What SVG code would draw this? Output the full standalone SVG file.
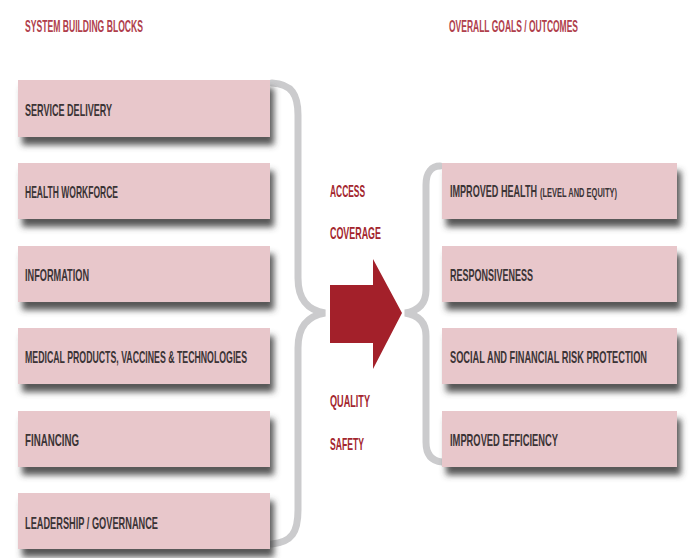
<svg xmlns="http://www.w3.org/2000/svg" width="692" height="558" viewBox="0 0 692 558">
<defs>
<filter id="sh" x="-10%" y="-30%" width="125%" height="180%">
<feGaussianBlur in="SourceAlpha" stdDeviation="3"/>
<feOffset dx="4" dy="8" result="b"/>
<feFlood flood-color="#454545" flood-opacity="0.9"/>
<feComposite in2="b" operator="in" result="s"/>
<feMerge><feMergeNode in="s"/><feMergeNode in="SourceGraphic"/></feMerge>
</filter>
<style>
.box{fill:#e8c7cb;filter:url(#sh)}
.t{font-family:"Liberation Sans",Arial,sans-serif;font-weight:bold;font-size:17px;fill:#3b3436}
.s{font-family:"Liberation Sans",Arial,sans-serif;font-weight:bold;font-size:12px;fill:#3b3436}
.h{font-family:"Liberation Sans",Arial,sans-serif;font-weight:bold;font-size:16px;fill:#b0404c}
.m{font-family:"Liberation Sans",Arial,sans-serif;font-weight:bold;font-size:17px;fill:#a3262e}
.brace{fill:none;stroke:#cbcbcd;stroke-width:7;stroke-linecap:round}
</style>
</defs>
<rect width="692" height="558" fill="#ffffff"/>
<text class="h" x="25" y="32" textLength="118" lengthAdjust="spacingAndGlyphs">SYSTEM BUILDING BLOCKS</text>
<text class="h" x="449" y="32" textLength="129" lengthAdjust="spacingAndGlyphs">OVERALL GOALS / OUTCOMES</text>
<g id="connectors">
<path class="brace" d="M272,83 C292,84 298,95 298,115 L298,278 C298,300 308,310 325,313 C308,316 298,326 298,348 L298,510 C298,532 292,542 272,544"/>
<path class="brace" d="M440,166 C432,166 426,172 426,185 L426,290 C426,304 418,311 405,313 C418,315 426,322 426,336 L426,442 C426,455 432,461 442,462"/>
<path id="arrow" d="M330,285 L373,285 L373,259 L402,313 L373,369 L373,343 L330,343 Z" fill="#a3202a"/>
</g>
<g id="access"><text class="m" x="330" y="197" textLength="35" lengthAdjust="spacingAndGlyphs">ACCESS</text></g>
<g id="coverage"><text class="m" x="330" y="239" textLength="51" lengthAdjust="spacingAndGlyphs">COVERAGE</text></g>
<g id="quality"><text class="m" x="330" y="407" textLength="40" lengthAdjust="spacingAndGlyphs">QUALITY</text></g>
<g id="safety"><text class="m" x="330" y="450" textLength="34" lengthAdjust="spacingAndGlyphs">SAFETY</text></g>
<g id="service-delivery"><rect class="box" x="18" y="80" width="252" height="57"/><text class="t" x="25" y="116" textLength="87" lengthAdjust="spacingAndGlyphs">SERVICE DELIVERY</text></g>
<g id="health-workforce"><rect class="box" x="18" y="163" width="252" height="56"/><text class="t" x="25" y="198" textLength="93" lengthAdjust="spacingAndGlyphs">HEALTH WORKFORCE</text></g>
<g id="information"><rect class="box" x="18" y="246" width="252" height="56"/><text class="t" x="25" y="281" textLength="64" lengthAdjust="spacingAndGlyphs">INFORMATION</text></g>
<g id="medical-products"><rect class="box" x="18" y="328" width="252" height="56"/><text class="t" x="25" y="363" textLength="222" lengthAdjust="spacingAndGlyphs">MEDICAL PRODUCTS, VACCINES &amp; TECHNOLOGIES</text></g>
<g id="financing"><rect class="box" x="18" y="411" width="252" height="56"/><text class="t" x="25" y="446" textLength="54" lengthAdjust="spacingAndGlyphs">FINANCING</text></g>
<g id="leadership"><rect class="box" x="18" y="493" width="252" height="56"/><text class="t" x="25" y="529" textLength="133" lengthAdjust="spacingAndGlyphs">LEADERSHIP / GOVERNANCE</text></g>
<g id="improved-health"><rect class="box" x="442" y="163" width="235" height="56"/><text class="t" x="450" y="197" textLength="87" lengthAdjust="spacingAndGlyphs">IMPROVED HEALTH</text><text class="s" x="540" y="197" textLength="77" lengthAdjust="spacingAndGlyphs">(LEVEL AND EQUITY)</text></g>
<g id="responsiveness"><rect class="box" x="442" y="246" width="235" height="56"/><text class="t" x="450" y="281" textLength="83" lengthAdjust="spacingAndGlyphs">RESPONSIVENESS</text></g>
<g id="risk-protection"><rect class="box" x="442" y="328" width="235" height="56"/><text class="t" x="450" y="363" textLength="197" lengthAdjust="spacingAndGlyphs">SOCIAL AND FINANCIAL RISK PROTECTION</text></g>
<g id="improved-efficiency"><rect class="box" x="442" y="411" width="235" height="56"/><text class="t" x="450" y="446" textLength="108" lengthAdjust="spacingAndGlyphs">IMPROVED EFFICIENCY</text></g>
</svg>
